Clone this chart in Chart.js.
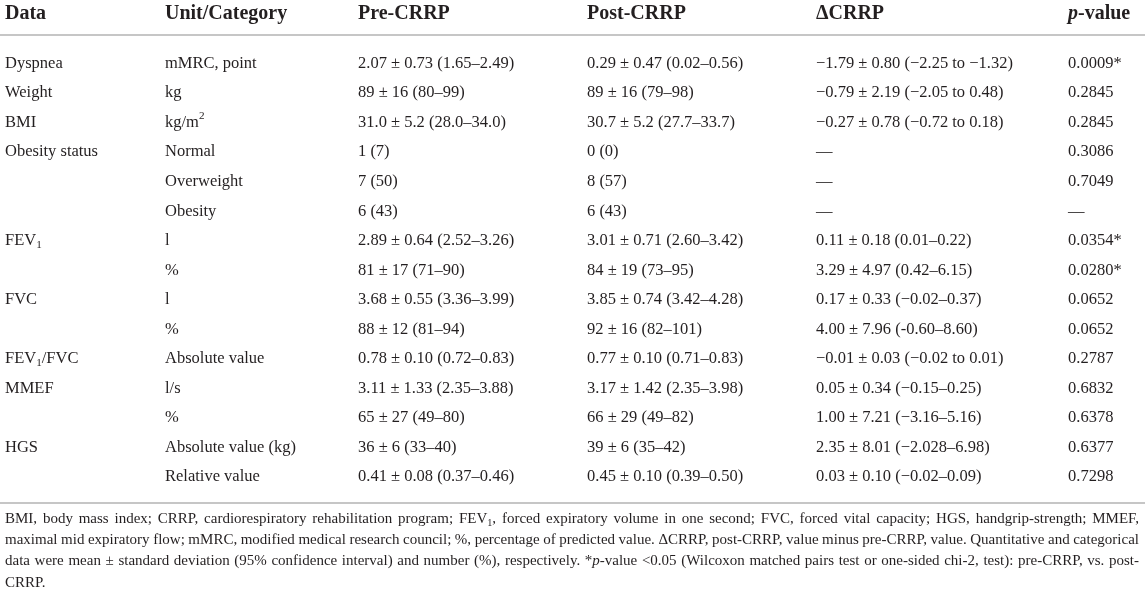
<!DOCTYPE html>
<html>
<head>
<meta charset="utf-8">
<script src="https://cdn.jsdelivr.net/npm/chart.js@4"></script>
<style>
  html, body { margin: 0; padding: 0; background: #fff; }
</style>
</head>
<body>
<canvas id="table_chart" width="1145" height="590"></canvas>
<script>
// table content (markup: _{..} subscript, ^{..} superscript, ~..~ italic)
const headers = ['Data', 'Unit/Category', 'Pre-CRRP', 'Post-CRRP', 'ΔCRRP', '~p~-value'];
const dataLabels = ['Dyspnea', 'Weight', 'BMI', 'Obesity status', '', '', 'FEV_{1}', '', 'FVC', '', 'FEV_{1}/FVC', 'MMEF', '', 'HGS', ''];
const units = ['mMRC, point', 'kg', 'kg/m^{2}', 'Normal', 'Overweight', 'Obesity', 'l', '%', 'l', '%', 'Absolute value', 'l/s', '%', 'Absolute value (kg)', 'Relative value'];
const preCRRP = ['2.07 ± 0.73 (1.65–2.49)', '89 ± 16 (80–99)', '31.0 ± 5.2 (28.0–34.0)', '1 (7)', '7 (50)', '6 (43)',
  '2.89 ± 0.64 (2.52–3.26)', '81 ± 17 (71–90)', '3.68 ± 0.55 (3.36–3.99)', '88 ± 12 (81–94)', '0.78 ± 0.10 (0.72–0.83)',
  '3.11 ± 1.33 (2.35–3.88)', '65 ± 27 (49–80)', '36 ± 6 (33–40)', '0.41 ± 0.08 (0.37–0.46)'];
const postCRRP = ['0.29 ± 0.47 (0.02–0.56)', '89 ± 16 (79–98)', '30.7 ± 5.2 (27.7–33.7)', '0 (0)', '8 (57)', '6 (43)',
  '3.01 ± 0.71 (2.60–3.42)', '84 ± 19 (73–95)', '3.85 ± 0.74 (3.42–4.28)', '92 ± 16 (82–101)', '0.77 ± 0.10 (0.71–0.83)',
  '3.17 ± 1.42 (2.35–3.98)', '66 ± 29 (49–82)', '39 ± 6 (35–42)', '0.45 ± 0.10 (0.39–0.50)'];
const deltaCRRP = ['−1.79 ± 0.80 (−2.25 to −1.32)', '−0.79 ± 2.19 (−2.05 to 0.48)', '−0.27 ± 0.78 (−0.72 to 0.18)', '—', '—', '—',
  '0.11 ± 0.18 (0.01–0.22)', '3.29 ± 4.97 (0.42–6.15)', '0.17 ± 0.33 (−0.02–0.37)', '4.00 ± 7.96 (-0.60–8.60)',
  '−0.01 ± 0.03 (−0.02 to 0.01)', '0.05 ± 0.34 (−0.15–0.25)', '1.00 ± 7.21 (−3.16–5.16)', '2.35 ± 8.01 (−2.028–6.98)',
  '0.03 ± 0.10 (−0.02–0.09)'];
const pValues = ['0.0009*', '0.2845', '0.2845', '0.3086', '0.7049', '—', '0.0354*', '0.0280*', '0.0652', '0.0652',
  '0.2787', '0.6832', '0.6378', '0.6377', '0.7298'];
const footnote = [
  'BMI, body mass index; CRRP, cardiorespiratory rehabilitation program; FEV_{1}, forced expiratory volume in one second; FVC, forced vital capacity; HGS, handgrip-strength; MMEF,',
  'maximal mid expiratory flow; mMRC, modified medical research council; %, percentage of predicted value. ΔCRRP, post-CRRP, value minus pre-CRRP, value. Quantitative and categorical',
  'data were mean ± standard deviation (95% confidence interval) and number (%), respectively. *~p~-value <0.05 (Wilcoxon matched pairs test or one-sided chi-2, test): pre-CRRP, vs. post-',
  'CRRP.'
];

// layout (y in row units, x in pixels)
const COL_LEFT = [5, 165, 358, 587, 816, 1068];
const HEADER_ROW = -1.68, HEAD_RULE = -0.948, FOOT_RULE = 14.87;
const FOOT_ROWS = [15.42, 16.14, 16.86, 17.58];
const SERIF = '"Liberation Serif", "DejaVu Serif", serif';
const INK = '#231f20';

const columns = [dataLabels, units, preCRRP, postCRRP, deltaCRRP, pValues];

function parseRich(str) {
  const parts = str.split(/(_\{[^}]*\}|\^\{[^}]*\}|~[^~]*~)/).filter(s => s.length);
  return parts.map(p => {
    if (p.startsWith('_{')) return { t: p.slice(2, -1), mode: 'sub' };
    if (p.startsWith('^{')) return { t: p.slice(2, -1), mode: 'sup' };
    if (p.startsWith('~')) return { t: p.slice(1, -1), mode: 'it' };
    return { t: p, mode: 'n' };
  });
}

function segFont(seg, size, bold) {
  const s = (seg.mode === 'sub' || seg.mode === 'sup') ? size * 0.68 : size;
  return (seg.mode === 'it' ? 'italic ' : '') + (bold ? 'bold ' : '') + s.toFixed(1) + 'px ' + SERIF;
}

// draws rich text left aligned; if justifyTo given, stretches spaces to fill width
function drawRich(ctx, str, x, y, size, bold, justifyTo) {
  const segs = parseRich(str);
  let extra = 0;
  if (justifyTo) {
    let w = 0, spaces = 0;
    segs.forEach(seg => {
      ctx.font = segFont(seg, size, bold);
      w += ctx.measureText(seg.t).width;
      spaces += (seg.t.match(/ /g) || []).length;
    });
    if (spaces) extra = (justifyTo - x - w) / spaces;
  }
  let cx = x;
  segs.forEach(seg => {
    ctx.font = segFont(seg, size, bold);
    const dy = seg.mode === 'sub' ? size * 0.28 : seg.mode === 'sup' ? -size * 0.38 : 0;
    const words = seg.t.split(' ');
    const sp = ctx.measureText(' ').width;
    words.forEach((wd, i) => {
      ctx.fillText(wd, cx, y + dy);
      cx += ctx.measureText(wd).width;
      if (i < words.length - 1) cx += sp + extra;
    });
  });
}

const cellText = {
  id: 'cellText',
  afterDatasetsDraw(chart) {
    const ctx = chart.ctx;
    const xs = chart.scales.x, ys = chart.scales.y;
    ctx.save();
    ctx.textBaseline = 'middle';
    ctx.textAlign = 'left';
    ctx.fillStyle = INK;
    // rules
    ctx.strokeStyle = '#c6c6c6';
    ctx.lineWidth = 2;
    [HEAD_RULE, FOOT_RULE].forEach(r => {
      const py = Math.round(ys.getPixelForValue(r));
      ctx.beginPath();
      ctx.moveTo(xs.getPixelForValue(0), py);
      ctx.lineTo(xs.getPixelForValue(1145), py);
      ctx.stroke();
    });
    chart.data.datasets.forEach((ds, di) => {
      chart.getDatasetMeta(di).data.forEach((el, i) => {
        const txt = ds.texts[i];
        if (!txt) return;
        const header = i === 0;
        drawRich(ctx, txt, el.x, el.y, header ? 20 : 16.5, header);
      });
    });
    footnote.forEach((line, i) => {
      const py = ys.getPixelForValue(FOOT_ROWS[i]);
      const last = i === footnote.length - 1;
      drawRich(ctx, line, xs.getPixelForValue(COL_LEFT[0]), py, 15, false, last ? null : xs.getPixelForValue(1139));
    });
    ctx.restore();
  }
};

const datasets = columns.map((col, c) => ({
  label: headers[c],
  texts: [headers[c]].concat(col),
  data: [{ x: COL_LEFT[c], y: HEADER_ROW }].concat(col.map((_, r) => ({ x: COL_LEFT[c], y: r }))),
  pointRadius: 0,
  pointHoverRadius: 0
}));

new Chart(document.getElementById('table_chart').getContext('2d'), {
  type: 'scatter',
  data: { datasets: datasets },
  options: {
    responsive: false,
    animation: false,
    layout: { padding: 0 },
    plugins: { legend: { display: false }, tooltip: { enabled: false } },
    events: [],
    scales: {
      x: { type: 'linear', display: false, min: 0, max: 1145 },
      y: { type: 'linear', display: false, reverse: true, min: -2.1496, max: 17.823 }
    }
  },
  plugins: [cellText]
});
</script>
</body>
</html>
